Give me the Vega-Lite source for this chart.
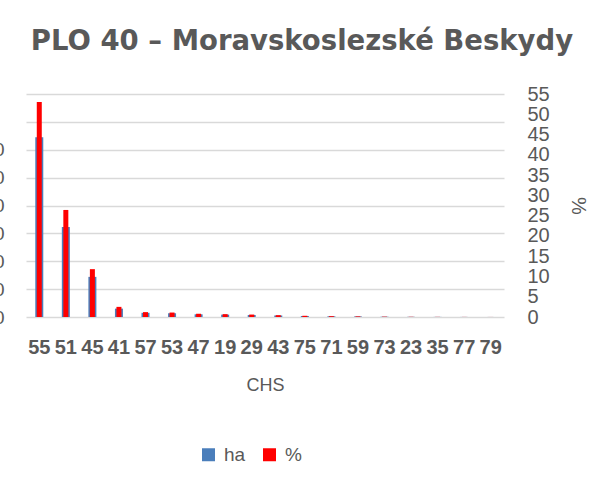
{
  "$schema": "https://vega.github.io/schema/vega-lite/v6.json",
  "width": 478,
  "height": 223,
  "autosize": {"type": "none"},
  "padding": {"left": 26, "top": 94, "right": 105, "bottom": 169},
  "background": "white",
  "title": {
    "text": "PLO 40 – Moravskoslezské Beskydy",
    "font": "DejaVu Sans",
    "fontSize": 27.5,
    "fontWeight": "bold",
    "color": "#595959",
    "anchor": "middle",
    "frame": "group",
    "baseline": "alphabetic",
    "dx": 37,
    "offset": 7
  },
  "config": {"view": {"stroke": null}},
  "data": {
    "values": [
      {"CHS": "55", "series": "ha", "value": 64500},
      {"CHS": "51", "series": "ha", "value": 32300},
      {"CHS": "45", "series": "ha", "value": 14400},
      {"CHS": "41", "series": "ha", "value": 3000},
      {"CHS": "57", "series": "ha", "value": 1500},
      {"CHS": "53", "series": "ha", "value": 1340},
      {"CHS": "47", "series": "ha", "value": 970},
      {"CHS": "19", "series": "ha", "value": 850},
      {"CHS": "29", "series": "ha", "value": 730},
      {"CHS": "43", "series": "ha", "value": 550},
      {"CHS": "75", "series": "ha", "value": 365},
      {"CHS": "71", "series": "ha", "value": 245},
      {"CHS": "59", "series": "ha", "value": 180},
      {"CHS": "73", "series": "ha", "value": 100},
      {"CHS": "23", "series": "ha", "value": 60},
      {"CHS": "35", "series": "ha", "value": 40},
      {"CHS": "77", "series": "ha", "value": 25},
      {"CHS": "79", "series": "ha", "value": 12},
      {"CHS": "55", "series": "%", "value": 53.0},
      {"CHS": "51", "series": "%", "value": 26.4},
      {"CHS": "45", "series": "%", "value": 11.8},
      {"CHS": "41", "series": "%", "value": 2.5},
      {"CHS": "57", "series": "%", "value": 1.2},
      {"CHS": "53", "series": "%", "value": 1.1},
      {"CHS": "47", "series": "%", "value": 0.8},
      {"CHS": "19", "series": "%", "value": 0.7},
      {"CHS": "29", "series": "%", "value": 0.6},
      {"CHS": "43", "series": "%", "value": 0.45},
      {"CHS": "75", "series": "%", "value": 0.3},
      {"CHS": "71", "series": "%", "value": 0.2},
      {"CHS": "59", "series": "%", "value": 0.15},
      {"CHS": "73", "series": "%", "value": 0.08},
      {"CHS": "23", "series": "%", "value": 0.05},
      {"CHS": "35", "series": "%", "value": 0.03},
      {"CHS": "77", "series": "%", "value": 0.02},
      {"CHS": "79", "series": "%", "value": 0.01}
    ]
  },
  "encoding": {
    "x": {
      "field": "CHS",
      "type": "nominal",
      "sort": null,
      "scale": {"paddingInner": 0, "paddingOuter": 0},
      "axis": {
        "title": "CHS",
        "labelAngle": 0,
        "labelFont": "Liberation Sans",
        "labelFontSize": 20,
        "labelFontWeight": "bold",
        "labelColor": "#595959",
        "labelPadding": 20,
        "labelBaseline": "top",
        "domain": false,
        "ticks": false,
        "titleFont": "Liberation Sans",
        "titleFontSize": 18,
        "titleFontWeight": "normal",
        "titleColor": "#595959",
        "titlePadding": 19
      }
    },
    "color": {
      "field": "series",
      "type": "nominal",
      "scale": {"domain": ["ha", "%"], "range": ["#4a7ebb", "#ff0000"]},
      "legend": {
        "title": null,
        "orient": "none",
        "direction": "horizontal",
        "legendX": 173,
        "legendY": 351,
        "symbolType": "square",
        "symbolSize": 169,
        "symbolStrokeWidth": 0,
        "labelFont": "Liberation Sans",
        "labelFontSize": 19,
        "labelColor": "#595959",
        "labelOffset": 6,
        "columnPadding": 14
      }
    }
  },
  "layer": [
    {
      "transform": [{"filter": "datum.series === 'ha'"}],
      "mark": {"type": "bar", "width": 8},
      "encoding": {
        "y": {
          "field": "value",
          "type": "quantitative",
          "scale": {"domain": [0, 80000], "nice": false},
          "axis": {
            "orient": "left",
            "title": null,
            "values": [0, 10000, 20000, 30000, 40000, 50000, 60000, 70000, 80000],
            "grid": true,
            "gridColor": "#d9d9d9",
            "gridWidth": 1.5,
            "domain": false,
            "ticks": false,
            "labelPadding": 22,
            "labelFont": "Liberation Sans",
            "labelFontSize": 19,
            "labelColor": "#595959",
            "labelExpr": "datum.value > 60000 ? '' : datum.label"
          }
        }
      }
    },
    {
      "transform": [{"filter": "datum.series === '%'"}],
      "mark": {"type": "bar", "width": 5},
      "encoding": {
        "y": {
          "field": "value",
          "type": "quantitative",
          "scale": {"domain": [0, 55], "nice": false},
          "axis": {
            "orient": "right",
            "title": "%",
            "values": [0, 5, 10, 15, 20, 25, 30, 35, 40, 45, 50, 55],
            "grid": false,
            "domain": false,
            "ticks": false,
            "labelPadding": 23,
            "labelFont": "Liberation Sans",
            "labelFontSize": 20,
            "labelColor": "#595959",
            "titleFont": "Liberation Sans",
            "titleFontSize": 20,
            "titleFontWeight": "normal",
            "titleColor": "#595959",
            "titlePadding": 18
          }
        }
      }
    }
  ],
  "resolve": {"scale": {"y": "independent"}, "axis": {"y": "independent"}}
}
